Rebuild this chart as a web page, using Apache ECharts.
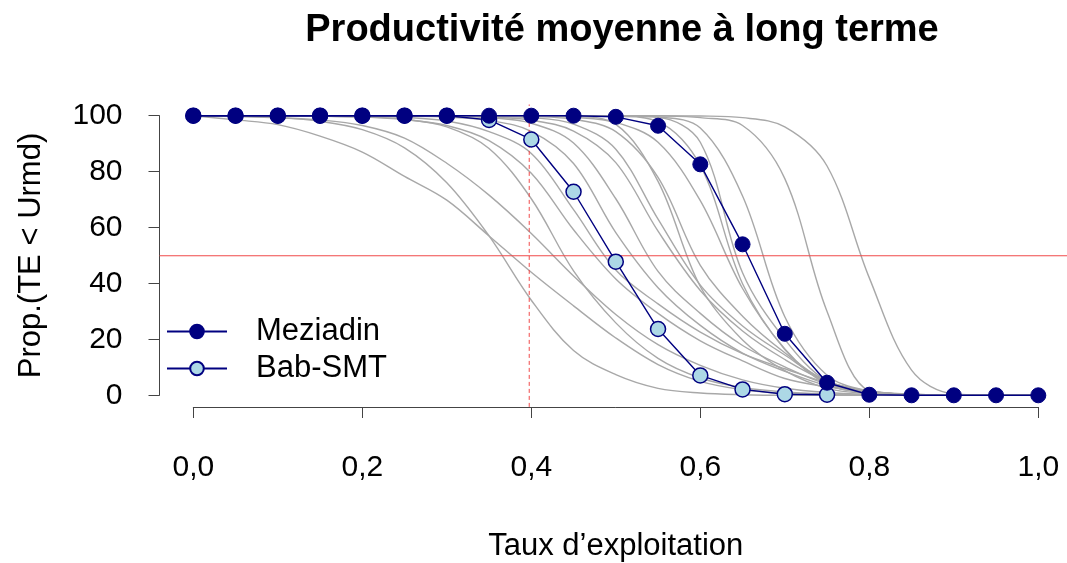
<!DOCTYPE html>
<html>
<head>
<meta charset="utf-8">
<script src="https://cdn.jsdelivr.net/npm/echarts@6/dist/echarts.min.js"></script>
<style>
  html, body { margin: 0; padding: 0; background: #ffffff; }
  #chart { width: 1067px; height: 563px; }
</style>
</head>
<body>
<div id="chart"></div>
<script>
// ---- Data -------------------------------------------------------------
const exploitationRates = [0, 0.05, 0.1, 0.15, 0.2, 0.25, 0.3, 0.35, 0.4, 0.45, 0.5,
                           0.55, 0.6, 0.65, 0.7, 0.75, 0.8, 0.85, 0.9, 0.95, 1.0];
const xTickValues = [0, 0.2, 0.4, 0.6, 0.8, 1.0];
const yTickValues = [0, 20, 40, 60, 80, 100];

const meziadin = [100, 100, 100, 100, 100, 100, 100, 100, 100, 100, 99.6,
                  96.4, 82.6, 54.0, 22.0, 4.5, 0.2, 0, 0, 0, 0];
const babSMT = [100, 100, 100, 100, 100, 100, 100, 98.5, 91.5, 72.8, 47.8,
                23.7, 7.1, 2.1, 0.4, 0.2];

// other populations (grey)
const grey01 = [100, 98.5, 96.8, 92.7, 87, 78.3, 69.8, 57, 44, 32, 20.5, 11, 5, 2, 0.7, 0.2, 0, 0, 0, 0, 0];
const grey02 = [100, 99.8, 99.3, 98, 95, 88.5, 76, 57, 34, 16, 7.4, 2.5, 0.8, 0.2, 0, 0, 0, 0, 0, 0, 0];
const grey03 = [100, 99.7, 99.3, 98.5, 96.5, 92, 83, 71.6, 57.9, 42.7, 28.9, 18.1, 10.7, 5.5, 2.5, 1, 0.3, 0, 0, 0, 0];
const grey04 = [100, 100, 99.9, 99.8, 99.5, 98.7, 96, 88.3, 70.3, 44.5, 25.9, 13.2, 6.2, 2.8, 1.2, 0.5, 0.2, 0, 0, 0, 0];
const grey05 = [100, 100, 99.9, 99.8, 99.5, 98.6, 96.5, 91.1, 79.4, 59.2, 41.6, 29.3, 19.5, 12.3, 6, 3, 1, 0.3, 0, 0, 0];
const grey06 = [100, 100, 100, 99.9, 99.8, 99.4, 98.1, 94.3, 86.5, 66.4, 44.8, 32.7, 22.6, 14.9, 9.5, 4.5, 1.5, 0.4, 0, 0, 0];
const grey07 = [100, 100, 100, 100, 99.9, 99.8, 99.5, 98.3, 94.4, 82.9, 58.2, 38.5, 25, 15.1, 8.6, 3.5, 1, 0.2, 0, 0, 0];
const grey08 = [100, 100, 100, 100, 100, 99.9, 99.8, 99.3, 97.3, 90.2, 70.3, 44.3, 29.3, 17.8, 10.2, 4, 1.2, 0.3, 0, 0, 0];
const grey09 = [100, 100, 100, 100, 100, 99.9, 99.8, 99.5, 98.4, 94.5, 83.2, 58.7, 37.5, 23, 12.8, 5, 1.5, 0.4, 0, 0, 0];
const grey10 = [100, 100, 100, 100, 100, 100, 99.9, 99.7, 99.3, 97, 88, 63, 39.4, 24.8, 14.4, 5, 1.5, 0.3, 0, 0, 0];
const grey11 = [100, 100, 100, 100, 100, 100, 100, 99.9, 99.8, 99.7, 96.9, 76.5, 38.9, 19.8, 8.8, 2.5, 0.6, 0, 0, 0, 0];
const grey12 = [100, 100, 100, 100, 100, 100, 100, 99.9, 99.7, 98.7, 94.3, 77.9, 46.5, 28.3, 15.2, 5, 1.5, 0.3, 0, 0, 0];
const grey13 = [100, 100, 100, 100, 100, 100, 100, 100, 99.9, 99.4, 97.6, 90.5, 69.6, 38.2, 16.6, 4, 1, 0.2, 0, 0, 0];
const grey14 = [100, 100, 100, 100, 100, 100, 100, 100, 100, 99.9, 99.8, 97.9, 82.2, 39.9, 16.4, 4, 0.8, 0, 0, 0, 0];
const grey15 = [100, 100, 100, 100, 100, 100, 100, 100, 100, 100, 99.9, 99.4, 90.5, 43.8, 20, 5, 1, 0.2, 0, 0, 0];
const grey16 = [100, 100, 100, 100, 100, 100, 100, 100, 100, 100, 99.9, 99.5, 95.6, 71.3, 28.1, 7.2, 1.5, 0.3, 0, 0, 0];
const grey17 = [100, 100, 100, 100, 100, 100, 100, 100, 100, 100, 100, 99.9, 99.3, 96.5, 77.5, 30, 1.5, 0, 0, 0, 0];
const grey18 = [100, 100, 100, 100, 100, 100, 100, 100, 100, 100, 100, 100, 99.9, 99.3, 96, 82, 42, 9, 0.5, 0, 0];
const greyCurves = [grey01, grey02, grey03, grey04, grey05, grey06, grey07, grey08, grey09,
                    grey10, grey11, grey12, grey13, grey14, grey15, grey16, grey17, grey18];

// reference lines
const refY = 50;   // horizontal reference
const refX = 0.4;  // vertical reference (dashed)

// ---- Layout ------------------------------------------------------------
const FONT = "'Liberation Sans', Arial, sans-serif";
const PAD_X = 0.04, PAD_Y = 4;   // R's 4 % plot region extension

function pairs(xs, ys) { return ys.map((v, i) => [xs[i], v]); }

const series = [];
greyCurves.forEach((c, i) => {
  series.push({
    name: 'grey' + (i + 1), type: 'line', data: pairs(exploitationRates, c),
    smooth: 0.35, showSymbol: false, symbol: 'none', silent: true,
    lineStyle: { color: '#a8a8a8', width: 1.4 }, z: 1
  });
});
// reference lines live on a second, hidden coordinate system spanning R's full plot region
series.push({
  name: 'refH', type: 'line', xAxisIndex: 1, yAxisIndex: 1, symbol: 'none', silent: true,
  data: [[0 - PAD_X, refY], [1 + PAD_X, refY]],
  lineStyle: { color: '#f04a4a', width: 1.1 }, z: 2
});
series.push({
  name: 'refV', type: 'line', xAxisIndex: 1, yAxisIndex: 1, symbol: 'none', silent: true,
  data: [[refX, 0 - PAD_Y], [refX, 100 + PAD_Y]],
  lineStyle: { color: '#f04a4a', width: 1, type: [4, 3] }, z: 2
});
series.push({
  name: 'Bab-SMT', type: 'line', data: pairs(exploitationRates, babSMT),
  symbol: 'circle', symbolSize: 15, showAllSymbol: true,
  lineStyle: { color: '#000080', width: 1.4 },
  itemStyle: { color: '#add8e6', borderColor: '#000080', borderWidth: 1.5 }, z: 3
});
series.push({
  name: 'Meziadin', type: 'line', data: pairs(exploitationRates, meziadin),
  symbol: 'circle', symbolSize: 15, showAllSymbol: true,
  lineStyle: { color: '#000080', width: 1.4 },
  itemStyle: { color: '#000080', borderColor: '#000080', borderWidth: 1 }, z: 4
});

const hiddenAxis = {
  show: false, axisLine: { show: false }, axisTick: { show: false },
  axisLabel: { show: false }, splitLine: { show: false }
};

const chart = echarts.init(document.getElementById('chart'), null, { renderer: 'canvas' });
chart.setOption({
  animation: false,
  backgroundColor: '#ffffff',
  title: {
    text: 'Productivité moyenne à long terme',
    left: 617, top: 7, textAlign: 'center',
    textStyle: { fontFamily: FONT, fontWeight: 'bold', fontSize: 38, color: '#000' }
  },
  legend: {
    data: ['Meziadin', 'Bab-SMT'],
    orient: 'vertical', left: 161, top: 311,
    itemWidth: 60, itemHeight: 17, itemGap: 6,
    textStyle: { fontFamily: FONT, fontSize: 31, color: '#000', lineHeight: 31, padding: [0, 0, 0, 24] }
  },
  grid: [
    { left: 193.3, width: 845, top: 115.7, height: 279.6, containLabel: false },
    { left: 159.5, width: 912.6, top: 104.5, height: 302.4, containLabel: false }
  ],
  xAxis: [{
    type: 'value', min: 0, max: 1, interval: 0.2, offset: 11.7, gridIndex: 0,
    name: 'Taux d’exploitation', nameLocation: 'middle', nameGap: 124,
    nameTextStyle: { fontFamily: FONT, fontSize: 31, color: '#000' },
    axisLine: { show: true, onZero: false, lineStyle: { color: '#444', width: 1 } },
    axisTick: { show: true, length: 11, lineStyle: { color: '#444', width: 1 } },
    axisLabel: { margin: 46, fontFamily: FONT, fontSize: 30, color: '#000',
      formatter: v => xTickValues.includes(+v.toFixed(2)) ? v.toFixed(1).replace('.', ',') : '' },
    splitLine: { show: false }
  }, Object.assign({ type: 'value', gridIndex: 1, min: 0 - PAD_X, max: 1 + PAD_X }, hiddenAxis)],
  yAxis: [{
    type: 'value', min: 0, max: 100, interval: 20, offset: 33.8, gridIndex: 0,
    name: 'Prop.(TE < Urmd)', nameLocation: 'middle', nameGap: 113, nameRotate: 90,
    nameTextStyle: { fontFamily: FONT, fontSize: 31, color: '#000' },
    axisLine: { show: true, onZero: false, lineStyle: { color: '#444', width: 1 } },
    axisTick: { show: true, length: 11, lineStyle: { color: '#444', width: 1 } },
    axisLabel: { margin: 37, fontFamily: FONT, fontSize: 30, color: '#000',
      formatter: v => yTickValues.includes(v) ? String(v) : '' },
    splitLine: { show: false }
  }, Object.assign({ type: 'value', gridIndex: 1, min: 0 - PAD_Y, max: 100 + PAD_Y }, hiddenAxis)],
  series: series
});
</script>
</body>
</html>
